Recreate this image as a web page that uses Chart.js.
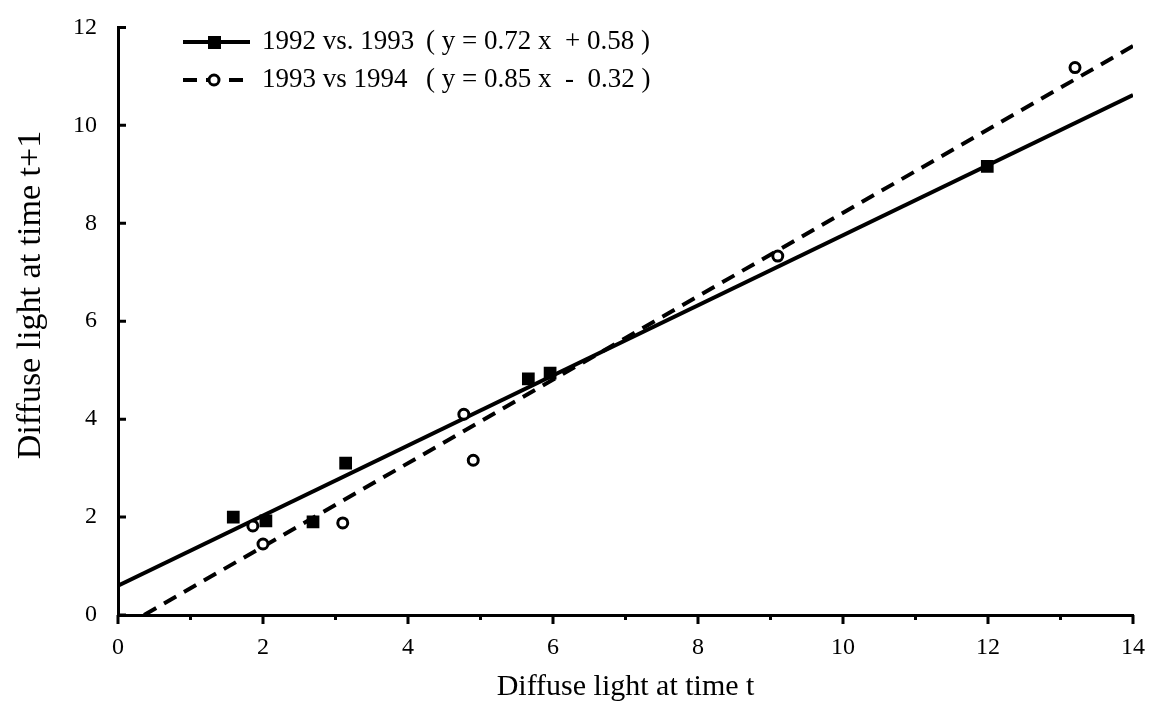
<!DOCTYPE html>
<html>
<head>
<meta charset="utf-8">
<title>Diffuse light</title>
<script src="https://cdn.jsdelivr.net/npm/chart.js"></script>
<style>
  body { margin: 0; background: #fff; }
  #wrap { width: 1150px; height: 705px; }
</style>
</head>
<body>
<div id="wrap"><canvas id="chart"></canvas></div>
<script>
// 1992 vs. 1993 (filled squares)
const sqX = [1.59, 2.04, 2.69, 3.14, 5.66, 5.96, 11.99];
const sqY = [2.0, 1.92, 1.9, 3.1, 4.82, 4.94, 9.16];
// 1993 vs 1994 (open circles)
const circX = [1.86, 2.0, 3.1, 4.77, 4.9, 9.1, 13.2];
const circY = [1.82, 1.45, 1.88, 4.1, 3.16, 7.33, 11.18];
// regression lines, end points as drawn
const fit92X = [0, 14];
const fit92Y = [0.6, 10.62];
const fit93X = [0.36, 14];
const fit93Y = [0, 11.62];

const seriesNames = ["1992 vs. 1993", "1993 vs 1994"];
const equations = ["( y = 0.72 x  + 0.58 )", "( y = 0.85 x  -  0.32 )"];
const xTickVals = [0, 1, 2, 3, 4, 5, 6, 7, 8, 9, 10, 11, 12, 13, 14];
const yTickVals = [0, 2, 4, 6, 8, 10, 12];
const yTitle = "Diffuse light at time t+1";

const FONT = "'Liberation Serif', 'DejaVu Serif', serif";
const toPts = (xs, ys) => xs.map((x, i) => ({ x, y: ys[i] }));
const DASH = [14, 9];

const tickMarks = {
  id: "tickMarks",
  afterDatasetsDraw(chart) {
    const { ctx, scales: { x, y } } = chart;
    ctx.save();
    ctx.strokeStyle = "#000";
    ctx.lineWidth = 3;
    ctx.beginPath();
    xTickVals.forEach((v) => {
      const px = x.getPixelForValue(v);
      ctx.moveTo(px, x.top);
      ctx.lineTo(px, x.top + (v % 2 ? 5 : 9));
    });
    yTickVals.forEach((v) => {
      const py = y.getPixelForValue(v);
      ctx.moveTo(y.right, py);
      ctx.lineTo(y.right + 8, py);
    });
    ctx.stroke();
    ctx.restore();
  },
};

// legend rows and the y title sit where the original figure puts them
const legendBox = {
  id: "legendBox",
  afterDraw(chart) {
    const ctx = chart.ctx;
    const rows = [
      { y: 42, dash: [], marker: "rect" },
      { y: 80, dash: DASH, marker: "circle" },
    ];
    ctx.save();
    rows.forEach((r, i) => {
      ctx.strokeStyle = "#000";
      ctx.lineWidth = 4;
      ctx.setLineDash(r.dash);
      ctx.beginPath();
      ctx.moveTo(183, r.y);
      ctx.lineTo(250, r.y);
      ctx.stroke();
      ctx.setLineDash([]);
      if (r.marker === "rect") {
        ctx.fillStyle = "#000";
        ctx.fillRect(208, r.y - 6, 13, 13);
      } else {
        ctx.fillStyle = "#fff";
        ctx.lineWidth = 3;
        ctx.beginPath();
        ctx.arc(214, r.y, 5, 0, Math.PI * 2);
        ctx.fill();
        ctx.stroke();
      }
      ctx.fillStyle = "#000";
      ctx.font = "27px " + FONT;
      ctx.textBaseline = "middle";
      ctx.fillText(seriesNames[i], 262, r.y);
      ctx.fillText(equations[i], 426, r.y);
    });

    ctx.translate(31, 295);
    ctx.rotate(-Math.PI / 2);
    ctx.font = "34px " + FONT;
    ctx.textAlign = "center";
    ctx.fillText(yTitle, 0, 0);
    ctx.restore();
  },
};

new Chart(document.getElementById("chart"), {
  type: "scatter",
  data: {
    datasets: [
      {
        label: seriesNames[0],
        data: toPts(sqX, sqY),
        pointStyle: "rect",
        pointRadius: 9,
        backgroundColor: "#000",
        borderColor: "#000",
        borderWidth: 0,
      },
      {
        label: seriesNames[1],
        data: toPts(circX, circY),
        pointStyle: "circle",
        pointRadius: 5,
        backgroundColor: "#fff",
        borderColor: "#000",
        borderWidth: 3,
      },
      {
        label: "fit 1992",
        data: toPts(fit92X, fit92Y),
        showLine: true,
        pointRadius: 0,
        borderColor: "#000",
        borderWidth: 4,
      },
      {
        label: "fit 1993",
        data: toPts(fit93X, fit93Y),
        showLine: true,
        pointRadius: 0,
        borderColor: "#000",
        borderWidth: 4,
        borderDash: DASH,
      },
    ],
  },
  options: {
    responsive: true,
    maintainAspectRatio: false,
    animation: false,
    layout: { padding: { top: 22, right: 0, left: 0, bottom: 0 } },
    plugins: { legend: { display: false }, tooltip: { enabled: false } },
    scales: {
      x: {
        type: "linear",
        min: 0,
        max: 14,
        afterFit: (s) => { s.height = 90; s.paddingRight = 17; },
        border: { color: "#000", width: 3 },
        grid: { display: false },
        ticks: {
          stepSize: 1,
          padding: 10,
          color: "#000",
          font: { family: FONT, size: 24 },
          callback: (v) => (v % 2 ? "" : v),
        },
        title: {
          display: true,
          text: "Diffuse light at time t",
          color: "#000",
          font: { family: FONT, size: 30 },
          padding: { top: 0, bottom: 0 },
        },
      },
      y: {
        min: 0,
        max: 12,
        afterFit: (s) => { s.width = 118; },
        border: { color: "#000", width: 3 },
        grid: { display: false },
        ticks: {
          stepSize: 2,
          padding: 13,
          color: "#000",
          font: { family: FONT, size: 24 },
        },
      },
    },
  },
  plugins: [tickMarks, legendBox],
});
</script>
</body>
</html>
